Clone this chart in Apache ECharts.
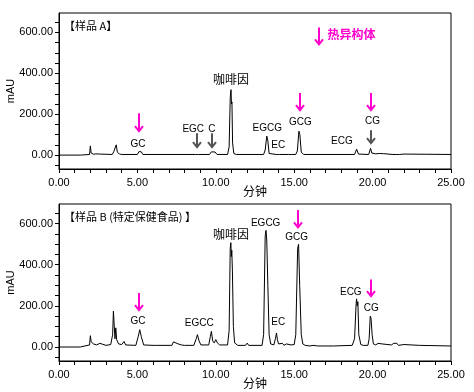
<!DOCTYPE html>
<html><head><meta charset="utf-8">
<script src="https://cdn.jsdelivr.net/npm/echarts@6/dist/echarts.min.js"></script>
<style>html,body{margin:0;padding:0;background:#fff}#c{width:474px;height:392px}</style>
</head><body><div id="c"></div>
<script>
// ---- Sample A chromatogram (time in min, absorbance in mAU)
const timesA = [0,1.35,1.45,1.95,2.0,2.05,2.1,2.2,2.35,2.45,2.6,2.7,3.4,3.5,3.6,3.65,3.72,3.85,4.0,5.0,5.1,5.25,5.35,8.7,8.8,8.9,9.6,9.72,9.82,9.95,10.08,10.75,10.85,10.92,10.97,11.0,11.03,11.07,11.15,11.3,13.05,13.15,13.25,13.32,13.4,13.5,13.85,13.95,14.05,14.65,14.75,14.85,15.1,15.2,15.3,15.36,15.45,15.6,18.85,18.98,19.1,19.2,19.75,19.87,19.95,20.05,20.2,20.3,20.45,20.55,20.7,20.8,21.3,21.4,21.5,21.6,21.7,22.0,22.1,25];
const valuesA = [0,0,3,3,45,10,12,4,6,3,5,3,3,18,22,50,15,5,3,3,17,16,3,3,10,3,3,16,8,15,3,3,40,280,320,250,260,60,8,3,3,25,93,70,8,3,3,8,3,3,5,3,3,20,117,100,15,3,3,29,5,3,3,33,10,3,6,3,8,3,7,3,3,6,3,6,3,5,3,3];
// ---- Sample B chromatogram
const timesB = [0,1.35,1.45,1.95,2.0,2.05,2.1,2.2,2.3,2.4,2.6,2.7,3.0,3.3,3.42,3.47,3.52,3.57,3.62,3.68,3.8,4.0,4.15,4.25,4.9,5.05,5.15,5.25,5.4,6.0,6.1,6.2,7.2,7.3,7.4,7.6,7.8,8.0,8.6,8.75,8.83,8.93,9.05,9.55,9.65,9.72,9.8,9.9,10.0,10.1,10.25,10.75,10.85,10.92,10.96,10.99,11.02,11.06,11.12,11.2,11.4,11.9,12.0,12.1,12.95,13.05,13.15,13.2,13.25,13.32,13.4,13.5,13.7,13.8,13.87,13.93,14.0,14.1,14.25,14.35,14.5,14.6,14.8,15.0,15.1,15.22,15.28,15.35,15.45,15.55,15.7,16.0,16.2,16.5,17.5,18.7,18.85,18.95,18.98,19.02,19.06,19.12,19.25,19.4,19.7,19.78,19.85,19.9,19.97,20.05,20.2,20.35,20.45,20.6,20.7,21.2,21.35,21.45,21.55,21.65,22.0,22.1,23.0,23.1,25];
const valuesB = [0,0,8,10,55,25,18,15,20,10,18,10,8,12,60,174,170,40,93,35,15,12,27,10,8,50,84,50,10,8,15,8,8,25,18,15,10,8,8,40,60,30,10,10,50,76,30,20,36,20,10,10,80,480,507,440,470,369,100,20,8,8,19,8,8,60,540,567,520,300,60,15,10,40,68,35,15,10,18,8,15,8,10,12,60,480,499,300,60,15,8,5,8,5,5,8,40,210,234,200,220,60,12,8,8,40,150,140,60,15,10,18,10,15,8,10,18,12,18,8,12,6,8,5,5];

// ---- axis ticks
const xTickLabels = [0,5,10,15,20,25];
const xMinorTicks = [0,1,2,3,4,5,6,7,8,9,10,11,12,13,14,15,16,17,18,19,20,21,22,23,24,25];
const yTickLabels = [0,200,400,600];
const yMinorTicks = [-50,0,50,100,150,200,250,300,350,400,450,500,550,600,650];

// ---- peak annotations: [text, time, mAU]
const peakNamesA = ['GC','EGC','C','咖啡因','EGCG','EC','GCG','ECG','CG'];
const peakTimesA = [5.04,8.56,9.75,10.97,13.28,13.98,15.4,18.04,19.99];
const peakLabelVA = [52,127,127,371,133,49,160,67,167];
const peakNamesB = ['GC','EGCC','咖啡因','EGCG','EC','GCG','ECG','CG'];
const peakTimesB = [5.04,8.94,10.97,13.18,13.98,15.15,18.61,19.91];
const peakLabelVB = [123,115,548,600,120,532,268,190];
// arrows: [time, from mAU, to mAU, kind]
const arrowsA = [[5.13,205,112,'p'],[8.81,107,34,'g'],[9.75,107,34,'g'],[15.4,304,215,'p'],[19.89,304,215,'p'],[19.89,122,54,'g'],[16.56,624,537,'p']];
const arrowsB = [[5.13,263,174,'p'],[15.23,666,577,'p'],[19.91,328,242,'p']];
const isomerNote = ['热异构体',17.13,590];

const PINK = '#ff00cc', GREY = '#555555';
const LATIN = '"Liberation Sans", Arial, sans-serif';
const CJK = '"Noto Sans CJK SC", sans-serif';

function pairs(t, v){ return t.map((x,i)=>[x, v[i]]); }
function hasCJK(s){ return /[\u4e00-\u9fff]/.test(s); }

function xAxis(gi){
  return {
    type:'value', gridIndex:gi, min:0, max:25, interval:5,
    name:'分钟', nameLocation:'middle', nameGap:16, nameMoveOverlap:false,
    nameTextStyle:{fontFamily:CJK, fontSize:12, color:'#000'},
    axisLine:{show:true, onZero:false, lineStyle:{color:'#000', width:1}},
    axisTick:{show:true, length:4, customValues:xMinorTicks, lineStyle:{color:'#000'}},
    axisLabel:{show:true, margin:8, customValues:xTickLabels, formatter:v=>Number(v).toFixed(2), fontFamily:LATIN, fontSize:11, color:'#000'},
    splitLine:{show:false}
  };
}
function yAxis(gi){
  return {
    type:'value', gridIndex:gi, min:-68, max:695,
    name:'mAU', nameLocation:'middle', nameGap:43, nameMoveOverlap:false,
    nameTextStyle:{fontFamily:LATIN, fontSize:11, color:'#000'},
    axisLine:{show:true, onZero:false, lineStyle:{color:'#000', width:1}},
    axisTick:{show:true, length:4, customValues:yMinorTicks, lineStyle:{color:'#000'}},
    axisLabel:{show:true, margin:6, customValues:yTickLabels, formatter:v=>Number(v).toFixed(2), fontFamily:LATIN, fontSize:11, color:'#000'},
    splitLine:{show:false}
  };
}
function traceSeries(gi, t, v){
  return {type:'line', xAxisIndex:gi, yAxisIndex:gi, data:pairs(t,v), showSymbol:false, symbol:'none',
    lineStyle:{color:'#000', width:1}, silent:true, z:3};
}
function labelSeries(gi, names, ts, vs, extra){
  const data = names.map((n,i)=>[ts[i], vs[i], n]);
  if (extra) data.push([extra[1], extra[2], extra[0], 'note']);
  return {type:'custom', xAxisIndex:gi, yAxisIndex:gi, data, clip:false, silent:true, z:5,
    renderItem:(params, api)=>{
      const d = data[params.dataIndex];
      const p = api.coord([d[0], d[1]]);
      if (d[3] === 'note') {
        return {type:'text', x:p[0], y:p[1], style:{text:d[2], fill:PINK, font:'bold 12px '+CJK, align:'left', verticalAlign:'middle'}};
      }
      const f = hasCJK(d[2]) ? ('12px '+CJK) : ('10px '+LATIN);
      return {type:'text', x:p[0], y:p[1], style:{text:d[2], fill:'#000', font:f, align:'center', verticalAlign:'middle'}};
    }};
}
function arrowSeries(gi, arr){
  return {type:'custom', xAxisIndex:gi, yAxisIndex:gi, data:arr.map(a=>[a[0],a[1],a[2]]), clip:false, silent:true, z:6,
    renderItem:(params, api)=>{
      const a = arr[params.dataIndex];
      const top = api.coord([a[0], a[1]]);
      const bot = api.coord([a[0], a[2]]);
      const c = a[3]==='p' ? PINK : GREY;
      const x = Math.round(top[0]);
      return {type:'group', children:[
        {type:'line', shape:{x1:x, y1:top[1], x2:x, y2:bot[1]-1}, style:{stroke:c, lineWidth:2}},
        {type:'polyline', shape:{points:[[x-4,bot[1]-6],[x,bot[1]-1],[x+4,bot[1]-6]]}, style:{stroke:c, lineWidth:2, fill:null}}
      ]};
    }};
}

const chart = echarts.init(document.getElementById('c'), null, {renderer:'canvas'});
chart.setOption({
  animation:false,
  backgroundColor:'#fff',
  title:[
    {text:'【样品 A】', left:64, top:20, padding:0, textStyle:{fontFamily:CJK, fontSize:11, fontWeight:'normal', color:'#000'}},
    {text:'【样品 B (特定保健食品) 】', left:64, top:211, padding:0, textStyle:{fontFamily:CJK, fontSize:11, fontWeight:'normal', color:'#000'}}
  ],
  grid:[
    {left:59, top:13, width:392, height:156, show:true, borderColor:'#000', borderWidth:1, backgroundColor:'transparent', containLabel:false, outerBoundsMode:'none'},
    {left:59, top:204, width:392, height:157, show:true, borderColor:'#000', borderWidth:1, backgroundColor:'transparent', containLabel:false, outerBoundsMode:'none'}
  ],
  xAxis:[xAxis(0), xAxis(1)],
  yAxis:[yAxis(0), yAxis(1)],
  series:[
    traceSeries(0, timesA, valuesA),
    traceSeries(1, timesB, valuesB),
    labelSeries(0, peakNamesA, peakTimesA, peakLabelVA, isomerNote),
    labelSeries(1, peakNamesB, peakTimesB, peakLabelVB, null),
    arrowSeries(0, arrowsA),
    arrowSeries(1, arrowsB)
  ]
});
</script></body></html>
